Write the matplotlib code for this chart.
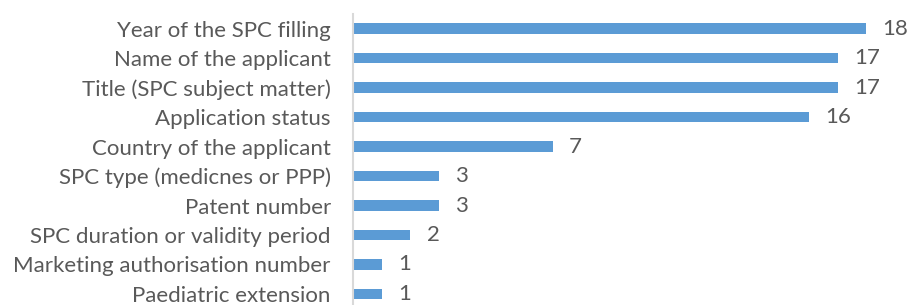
import matplotlib
matplotlib.use("Agg")
import matplotlib.pyplot as plt

categories = ["Year of the SPC filling", "Name of the applicant", "Title (SPC subject matter)",
              "Application status", "Country of the applicant", "SPC type (medicnes or PPP)",
              "Patent number", "SPC duration or validity period", "Marketing authorisation number",
              "Paediatric extension"]
values = [18, 17, 17, 16, 7, 3, 3, 2, 1, 1]

plt.rcParams['font.family'] = ['Lato', 'DejaVu Sans']
W, H = 909, 305
fig = plt.figure(figsize=(W/100, H/100), dpi=100)
left = 353 / W
top_px = 13.75
bot_px = 308.75
ax = fig.add_axes([left, 1 - bot_px / H, 1 - left, (bot_px - top_px) / H])

text_color = "#595959"
fs = 16
y = list(range(len(categories)))
ax.barh(y, values, height=0.37, color="#5B9BD5")
ax.set_ylim(len(categories) - 0.5, -0.5)
ax.set_xlim(0, (W - 353) / 28.5)
ax.set_yticks(y)
ax.set_yticklabels(categories, fontsize=fs, color=text_color)
ax.tick_params(axis='y', length=0, pad=16)
ax.set_xticks([])
for s in ["top", "right", "bottom"]:
    ax.spines[s].set_visible(False)
ax.spines["left"].set_color("#D9D9D9")
ax.spines["left"].set_linewidth(1.5)
for yi, v in zip(y, values):
    ax.annotate(str(v), (v, yi), xytext=(12, 0), textcoords="offset points",
                va="center", ha="left", fontsize=fs, color=text_color)
fig.savefig("out.png", dpi=100)
